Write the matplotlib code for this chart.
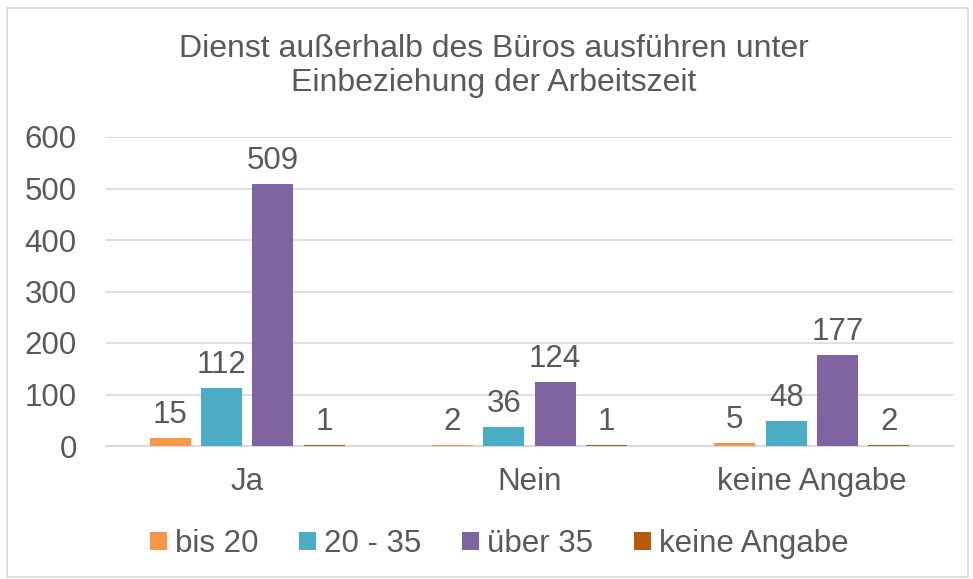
import numpy as np
import matplotlib.pyplot as plt
from matplotlib.patches import Rectangle

plt.rcParams['font.family'] = ['Liberation Sans', 'DejaVu Sans']

# data
categories = ['Ja', 'Nein', 'keine Angabe']
series = ['bis 20', '20 - 35', 'über 35', 'keine Angabe']
values = {
    'bis 20': [15, 2, 5],
    '20 - 35': [112, 36, 48],
    'über 35': [509, 124, 177],
    'keine Angabe': [1, 1, 2],
}
colors = ['#F79646', '#4BACC6', '#8064A2', '#B85A0D']
title = 'Dienst außerhalb des Büros ausführen unter\nEinbeziehung der Arbeitszeit'

txt = '#595959'
grid = '#D9D9D9'
fs = 22.5

fig = plt.figure(figsize=(9.73, 5.79), dpi=100)
ax = fig.add_axes([106/973, 1 - 446/579, (953 - 106)/973, (446 - 137)/579])

x = np.arange(len(categories))
step = 0.182
width = 0.145
for i, s in enumerate(series):
    pos = x + (i - 1.5) * step
    bars = ax.bar(pos, values[s], width, color=colors[i], label=s, zorder=3)
    for b, v in zip(bars, values[s]):
        ax.annotate(str(v), (b.get_x() + b.get_width() / 2, v),
                    xytext=(0, 6), textcoords='offset points',
                    ha='center', va='bottom', fontsize=fs, color=txt)

ax.set_xlim(-0.5, 2.5)
ax.set_ylim(0, 600)
ax.set_yticks(range(0, 601, 100))
ax.set_xticks(x)
ax.set_xticklabels(categories)
ax.yaxis.grid(True, color=grid, lw=1.2, zorder=0)
for side in ['top', 'right', 'left']:
    ax.spines[side].set_visible(False)
ax.spines['bottom'].set_color(grid)
ax.spines['bottom'].set_linewidth(1.5)
ax.tick_params(axis='both', length=0, labelsize=fs, labelcolor=txt)
ax.tick_params(axis='y', pad=21)
ax.tick_params(axis='x', pad=15)

fig.text(494/973, 1 - 66/579, title, ha='center', va='center',
         fontsize=23, color=txt, linespacing=1.2)

fig.legend(loc='center', bbox_to_anchor=(0.513, 1 - 544/579), ncol=4,
           frameon=False, fontsize=fs, labelcolor=txt,
           handlelength=0.55, handleheight=0.55, handletextpad=0.25,
           columnspacing=1.3)

fig.patches.append(Rectangle((7/973, 2/579), (968 - 7)/973, (571 - 2)/579,
                             transform=fig.transFigure, fill=False,
                             edgecolor=grid, lw=1.2))

fig.savefig('out.png', dpi=100)
